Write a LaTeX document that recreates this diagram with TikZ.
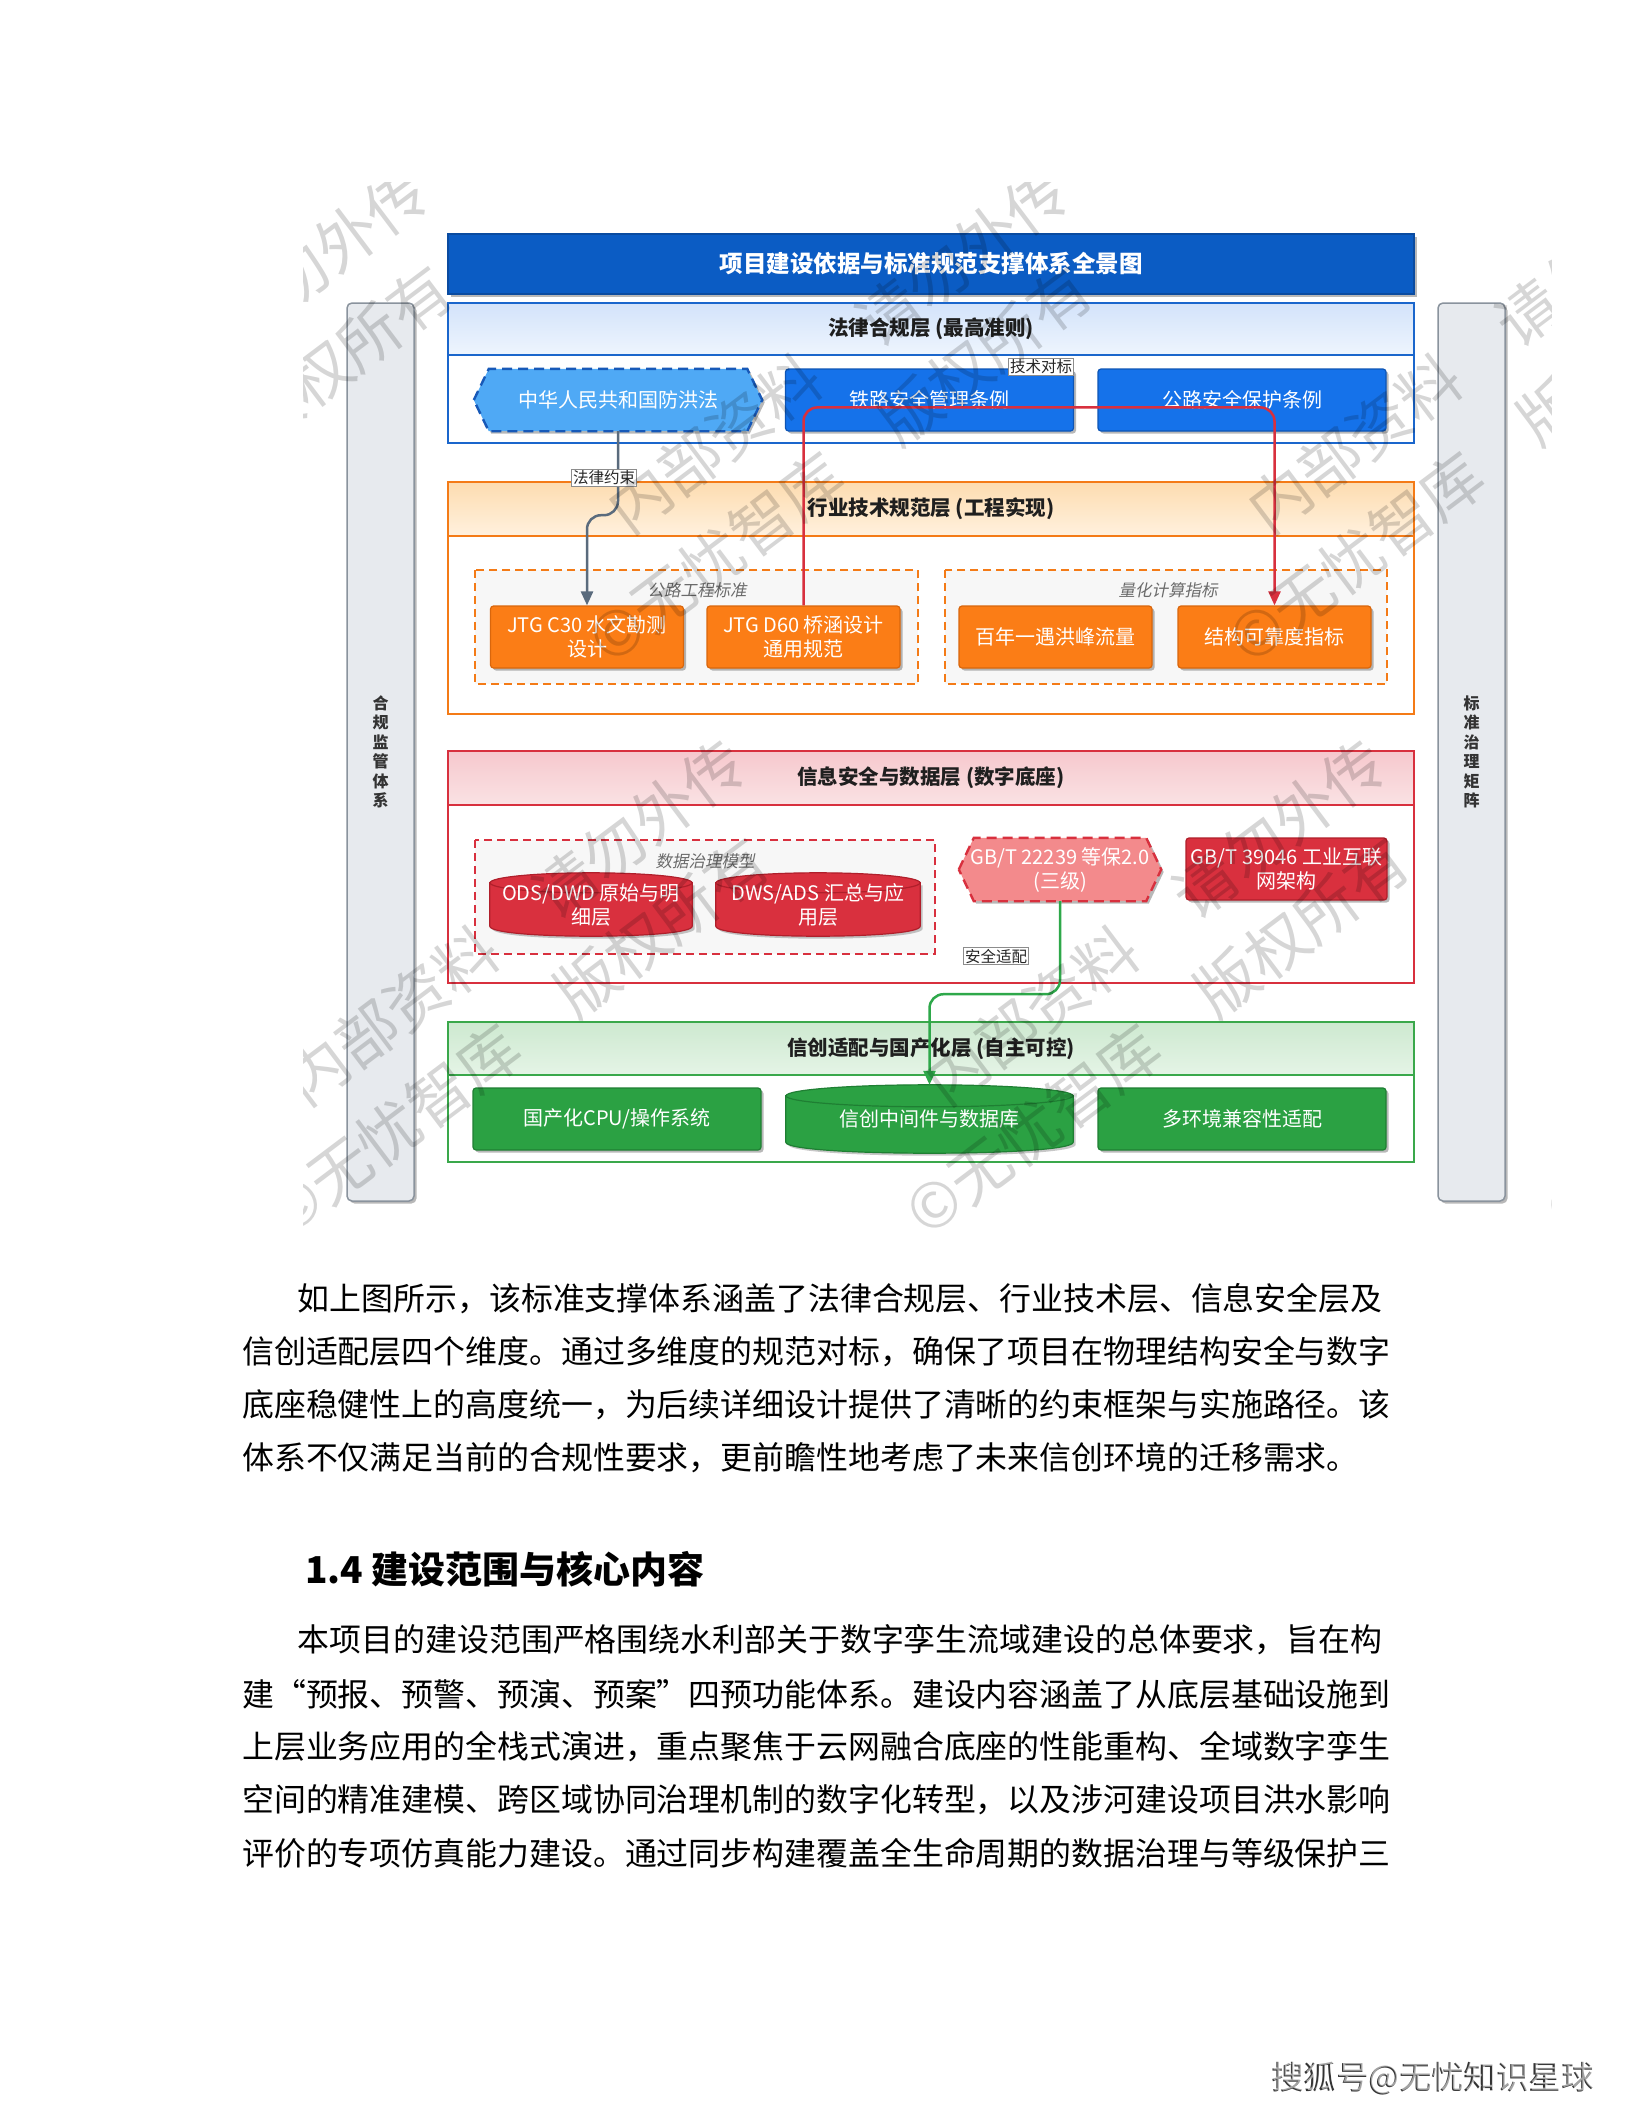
\documentclass[tikz,border=0pt]{standalone}
\usepackage{fontspec}
\setmainfont{Noto Sans CJK SC}
\newfontfamily\slantcjk[FakeSlant=0.2]{Noto Sans CJK SC}
\usetikzlibrary{arrows.meta,shadows,calc}
\pgfdeclarelayer{bg}
\pgfdeclarelayer{shp}
\pgfdeclarelayer{fg}
\pgfsetlayers{bg,shp,main,fg}

\definecolor{titleblue}{HTML}{0B5CC4}
\definecolor{titlebluebd}{HTML}{0A4BA0}
\definecolor{lawborder}{HTML}{1A66CC}
\definecolor{lawtop}{HTML}{D3E3FA}
\definecolor{lawbot}{HTML}{EEF5FE}
\definecolor{lawbox}{HTML}{1572EA}
\definecolor{lawboxb}{HTML}{0E55B5}
\definecolor{hexblue}{HTML}{4FA9F5}
\definecolor{hexblueb}{HTML}{1759B8}
\definecolor{orgborder}{HTML}{F47B17}
\definecolor{orgtop}{HTML}{FDDCB0}
\definecolor{orgbot}{HTML}{FFF1DE}
\definecolor{orgbox}{HTML}{FB7D16}
\definecolor{orgboxb}{HTML}{D9660C}
\definecolor{redborder}{HTML}{D8303E}
\definecolor{redtop}{HTML}{F6C8CD}
\definecolor{redbot}{HTML}{FAE2E4}
\definecolor{redbox}{HTML}{D9303E}
\definecolor{redboxb}{HTML}{B01F2B}
\definecolor{hexred}{HTML}{F38A8C}
\definecolor{grnborder}{HTML}{3AA84B}
\definecolor{grntop}{HTML}{CDE9D0}
\definecolor{grnbot}{HTML}{E5F4E6}
\definecolor{grnbox}{HTML}{2BA143}
\definecolor{grnboxb}{HTML}{1F7F33}
\definecolor{sidefill}{HTML}{E7EAEE}
\definecolor{sideborder}{HTML}{8A939D}
\definecolor{arrgray}{HTML}{5A6B7D}
\definecolor{arrred}{HTML}{D8303E}
\definecolor{arrgreen}{HTML}{2EA84A}

\tikzset{
  shad/.style={drop shadow={shadow xshift=2.5pt,shadow yshift=-2.5pt,opacity=0.28,fill=black}},
  box/.style={rectangle, rounded corners=3, text=white, align=center, line width=1.2,
    font=\fontsize{20}{24}\selectfont, shad, inner sep=2},
  lawbx/.style={box, fill=lawbox, draw=lawboxb, minimum width=288, minimum height=62},
  orgbx/.style={box, fill=orgbox, draw=orgboxb, minimum width=193, minimum height=62},
  redbx/.style={box, fill=redbox, draw=redboxb, minimum width=201, minimum height=62},
  grnbx/.style={box, fill=grnbox, draw=grnboxb, minimum width=288, minimum height=62},
  plainnode/.style={rectangle, text=white, align=center, inner sep=2,
    font=\fontsize{20}{24}\selectfont},
  titlebox/.style={rectangle, fill=titleblue, draw=titlebluebd, line width=1.2,
    minimum width=966, minimum height=60, text=white, shad,
    font=\bfseries\fontsize{23.5}{28}\selectfont},
  sidebar/.style={rectangle, rounded corners=5, fill=sidefill, draw=sideborder, line width=1.5,
    minimum width=67, minimum height=898, shad, align=center, text=black!80,
    font=\bfseries\fontsize{16}{19.5}\selectfont},
  layertitle/.style={font=\bfseries\fontsize{20.5}{24}\selectfont, text=black!88, inner sep=1},
  grouplabel/.style={font=\slantcjk\fontsize{16.5}{20}\selectfont, text=black!58, inner sep=1},
  elabel/.style={fill=white, draw=black!45, line width=0.8, inner sep=1.5,
    font=\fontsize{15.5}{18}\selectfont, text=black!85},
  bodytext/.style={anchor=west, inner sep=0, font=\fontsize{31.9}{38}\selectfont, text=black},
  wm/.style={rotate=37, text=black, opacity=0.16, font=\fontsize{62}{92}\selectfont,
    align=left, inner sep=0},
  conn/.style={line width=2.5, rounded corners=14, -{Triangle[length=14pt,width=12pt]}},
}

\newcommand{\hexshape}[4]{%
  \filldraw[fill=#3, draw=#4, line width=2.4, dash pattern=on 10pt off 6pt, shad]
    (#1.west) -- ($(#1.north west)+(#2,0)$) -- ($(#1.north east)+(-#2,0)$) -- (#1.east)
    -- ($(#1.south east)+(-#2,0)$) -- ($(#1.south west)+(#2,0)$) -- cycle;}

\newcommand{\cylshape}[5]{%
  \fill[black, opacity=0.22, transform canvas={shift={(2.5pt,-2.5pt)}}]
    ($(#1.north west)+(0,#2)$) -- ($(#1.south west)+(0,-#2)$)
    .. controls ($(#1.south west)+(0,#2/3)$) and ($(#1.south east)+(0,#2/3)$) .. ($(#1.south east)+(0,-#2)$)
    -- ($(#1.north east)+(0,#2)$) -- cycle;
  \filldraw[fill=#4, draw=#5, line width=1.2]
    ($(#1.north west)+(0,#2)$) -- ($(#1.south west)+(0,-#2)$)
    .. controls ($(#1.south west)+(0,#2/3)$) and ($(#1.south east)+(0,#2/3)$) .. ($(#1.south east)+(0,-#2)$)
    -- ($(#1.north east)+(0,#2)$) -- cycle;
  \filldraw[fill=#4, draw=#5, line width=1.2] ($(#1.north)+(0,#2)$) ellipse [x radius=#3, y radius=#2];}

\begin{document}
\begin{tikzpicture}[x=1pt,y=-1pt]
\useasboundingbox (0,0) rectangle (1632,2112);

\begin{pgfonlayer}{bg}
\fill[white] (0,0) rectangle (1632,2112);
% layer 1
\fill[white] (448,303) rectangle (1414,443);
\shade[top color=lawtop,bottom color=lawbot] (448,303) rectangle (1414,355);
\draw[lawborder,line width=1.6] (448,303) rectangle (1414,443) (448,355) -- (1414,355);
% layer 2
\fill[white] (448,482) rectangle (1414,714);
\shade[top color=orgtop,bottom color=orgbot] (448,482) rectangle (1414,536);
\draw[orgborder,line width=1.6] (448,482) rectangle (1414,714) (448,536) -- (1414,536);
\filldraw[fill=black!3, draw=orgborder, line width=1.5, dash pattern=on 8pt off 5pt] (475,570) rectangle (918,684);
\filldraw[fill=black!3, draw=orgborder, line width=1.5, dash pattern=on 8pt off 5pt] (945,570) rectangle (1387,684);
% layer 3
\fill[white] (448,751) rectangle (1414,983);
\shade[top color=redtop,bottom color=redbot] (448,751) rectangle (1414,805);
\draw[redborder,line width=1.6] (448,751) rectangle (1414,983) (448,805) -- (1414,805);
\filldraw[fill=black!3, draw=redborder, line width=1.5, dash pattern=on 8pt off 5pt] (475,840) rectangle (935,954);
% layer 4
\fill[white] (448,1022) rectangle (1414,1162);
\shade[top color=grntop,bottom color=grnbot] (448,1022) rectangle (1414,1075);
\draw[grnborder,line width=1.6] (448,1022) rectangle (1414,1162) (448,1075) -- (1414,1075);
\end{pgfonlayer}

% title and side bars
\node[titlebox] (title) at (931,264) {项目建设依据与标准规范支撑体系全景图};
\node[sidebar] (leftbar) at (380.5,752) {合\\规\\监\\管\\体\\系};
\node[sidebar] (rightbar) at (1471.5,752) {标\\准\\治\\理\\矩\\阵};

% layer titles
\node[layertitle] (t1) at (931,329) {法律合规层 (最高准则)};
\node[layertitle] (t2) at (931,509) {行业技术规范层 (工程实现)};
\node[layertitle] (t3) at (931,778) {信息安全与数据层 (数字底座)};
\node[layertitle] (t4) at (931,1049) {信创适配与国产化层 (自主可控)};

% group labels
\node[grouplabel] (g1) at (697,590) {公路工程标准};
\node[grouplabel] (g2) at (1168,590) {量化计算指标};
\node[grouplabel] (g3) at (705,861) {数据治理模型};

% layer 1 nodes
\node[plainnode, minimum width=288, minimum height=62] (fanghong) at (618,400) {中华人民共和国防洪法};
\node[lawbx] (tielu) at (929.5,400) {铁路安全管理条例};
\node[lawbx] (gonglu) at (1242,400) {公路安全保护条例};

% layer 2 nodes
\node[orgbx] (c30) at (587,637) {JTG C30 水文勘测\\设计};
\node[orgbx] (d60) at (803.5,637) {JTG D60 桥涵设计\\通用规范};
\node[orgbx] (bainian) at (1055.5,637) {百年一遇洪峰流量};
\node[orgbx] (kekao) at (1274.5,637) {结构可靠度指标};

% layer 3 nodes
\node[plainnode, minimum width=202, minimum height=63] (ods) at (591,904.5) {ODS/DWD 原始与明\\细层};
\node[plainnode, minimum width=204, minimum height=63] (dws) at (818,904.5) {DWS/ADS 汇总与应\\用层};
\node[plainnode, minimum width=202, minimum height=63] (gbt22239) at (1060,869.5) {GB/T 22239 等保2.0\\(三级)};
\node[redbx] (gbt39046) at (1286.5,869) {GB/T 39046 工业互联\\网架构};

% layer 4 nodes
\node[grnbx] (cpu) at (617,1119) {国产化CPU/操作系统};
\node[plainnode, minimum width=287, minimum height=68] (xczj) at (929.5,1119) {信创中间件与数据库};
\node[grnbx] (duohj) at (1242,1119) {多环境兼容性适配};

\begin{pgfonlayer}{shp}
\hexshape{fanghong}{15}{hexblue}{hexblueb}
\hexshape{gbt22239}{15}{hexred}{redborder}
\cylshape{ods}{10}{101}{redbox}{redboxb}
\cylshape{dws}{10}{102}{redbox}{redboxb}
\cylshape{xczj}{11}{143.5}{grnbox}{grnboxb}
\end{pgfonlayer}

% connectors
\draw[conn, arrgray] (fanghong.south) -- ++(0,84) -| (c30.north);
\draw[conn, arrred] (d60.north) -- ++(0,-198) -| (kekao.north);
\draw[conn, arrgreen] (gbt22239.south) -- ++(0,93) -| (xczj.north);

% edge labels
\node[elabel] (lbl1) at (604,478) {法律约束};
\node[elabel] (lbl2) at (1041,367) {技术对标};
\node[elabel] (lbl3) at (996,956) {安全适配};

% watermark
\begin{pgfonlayer}{fg}
\begin{scope}
\clip (303,182) rectangle (1551,1232);
\foreach \i in {-2,...,2} {
  \foreach \j in {-1,...,2} {
    \node[wm] (wm\i\j) at ({829+\i*640-\j*323},{415+\j*572})
      {\hspace*{1.5em}内部资料\hspace{1em}请勿外传\\©无忧智库\hspace{1em}版权所有};
  }
}
\end{scope}
\end{pgfonlayer}

% body text
\node[bodytext] (p1a) at (297.6,1299) {如上图所示，该标准支撑体系涵盖了法律合规层、行业技术层、信息安全层及};
\node[bodytext] (p1b) at (242,1352) {信创适配层四个维度。通过多维度的规范对标，确保了项目在物理结构安全与数字};
\node[bodytext] (p1c) at (242,1404.5) {底座稳健性上的高度统一，为后续详细设计提供了清晰的约束框架与实施路径。该};
\node[bodytext] (p1d) at (242,1458) {体系不仅满足当前的合规性要求，更前瞻性地考虑了未来信创环境的迁移需求。};

\node[anchor=west, inner sep=0, font=\bfseries\fontsize{37}{44}\selectfont] (h14) at (305,1569) {1.4 建设范围与核心内容};

\node[bodytext] (p2a) at (297.6,1640) {本项目的建设范围严格围绕水利部关于数字孪生流域建设的总体要求，旨在构};
\node[bodytext] (p2b) at (242,1694) {建“预报、预警、预演、预案”四预功能体系。建设内容涵盖了从底层基础设施到};
\node[bodytext] (p2c) at (242,1746.5) {上层业务应用的全栈式演进，重点聚焦于云网融合底座的性能重构、全域数字孪生};
\node[bodytext] (p2d) at (242,1800) {空间的精准建模、跨区域协同治理机制的数字化转型，以及涉河建设项目洪水影响};
\node[bodytext] (p2e) at (242,1853) {评价的专项仿真能力建设。通过同步构建覆盖全生命周期的数据治理与等级保护三};

% footer
\node[anchor=west, inner sep=0, font=\fontsize{32.4}{38}\selectfont, text=black!80] (footsh) at (1271,2079) {搜狐号@无忧知识星球};
\node[anchor=west, inner sep=0, font=\fontsize{32.4}{38}\selectfont, text=white, opacity=0.55] (foot) at (1272.5,2077.5) {搜狐号@无忧知识星球};
\end{tikzpicture}
\end{document}
